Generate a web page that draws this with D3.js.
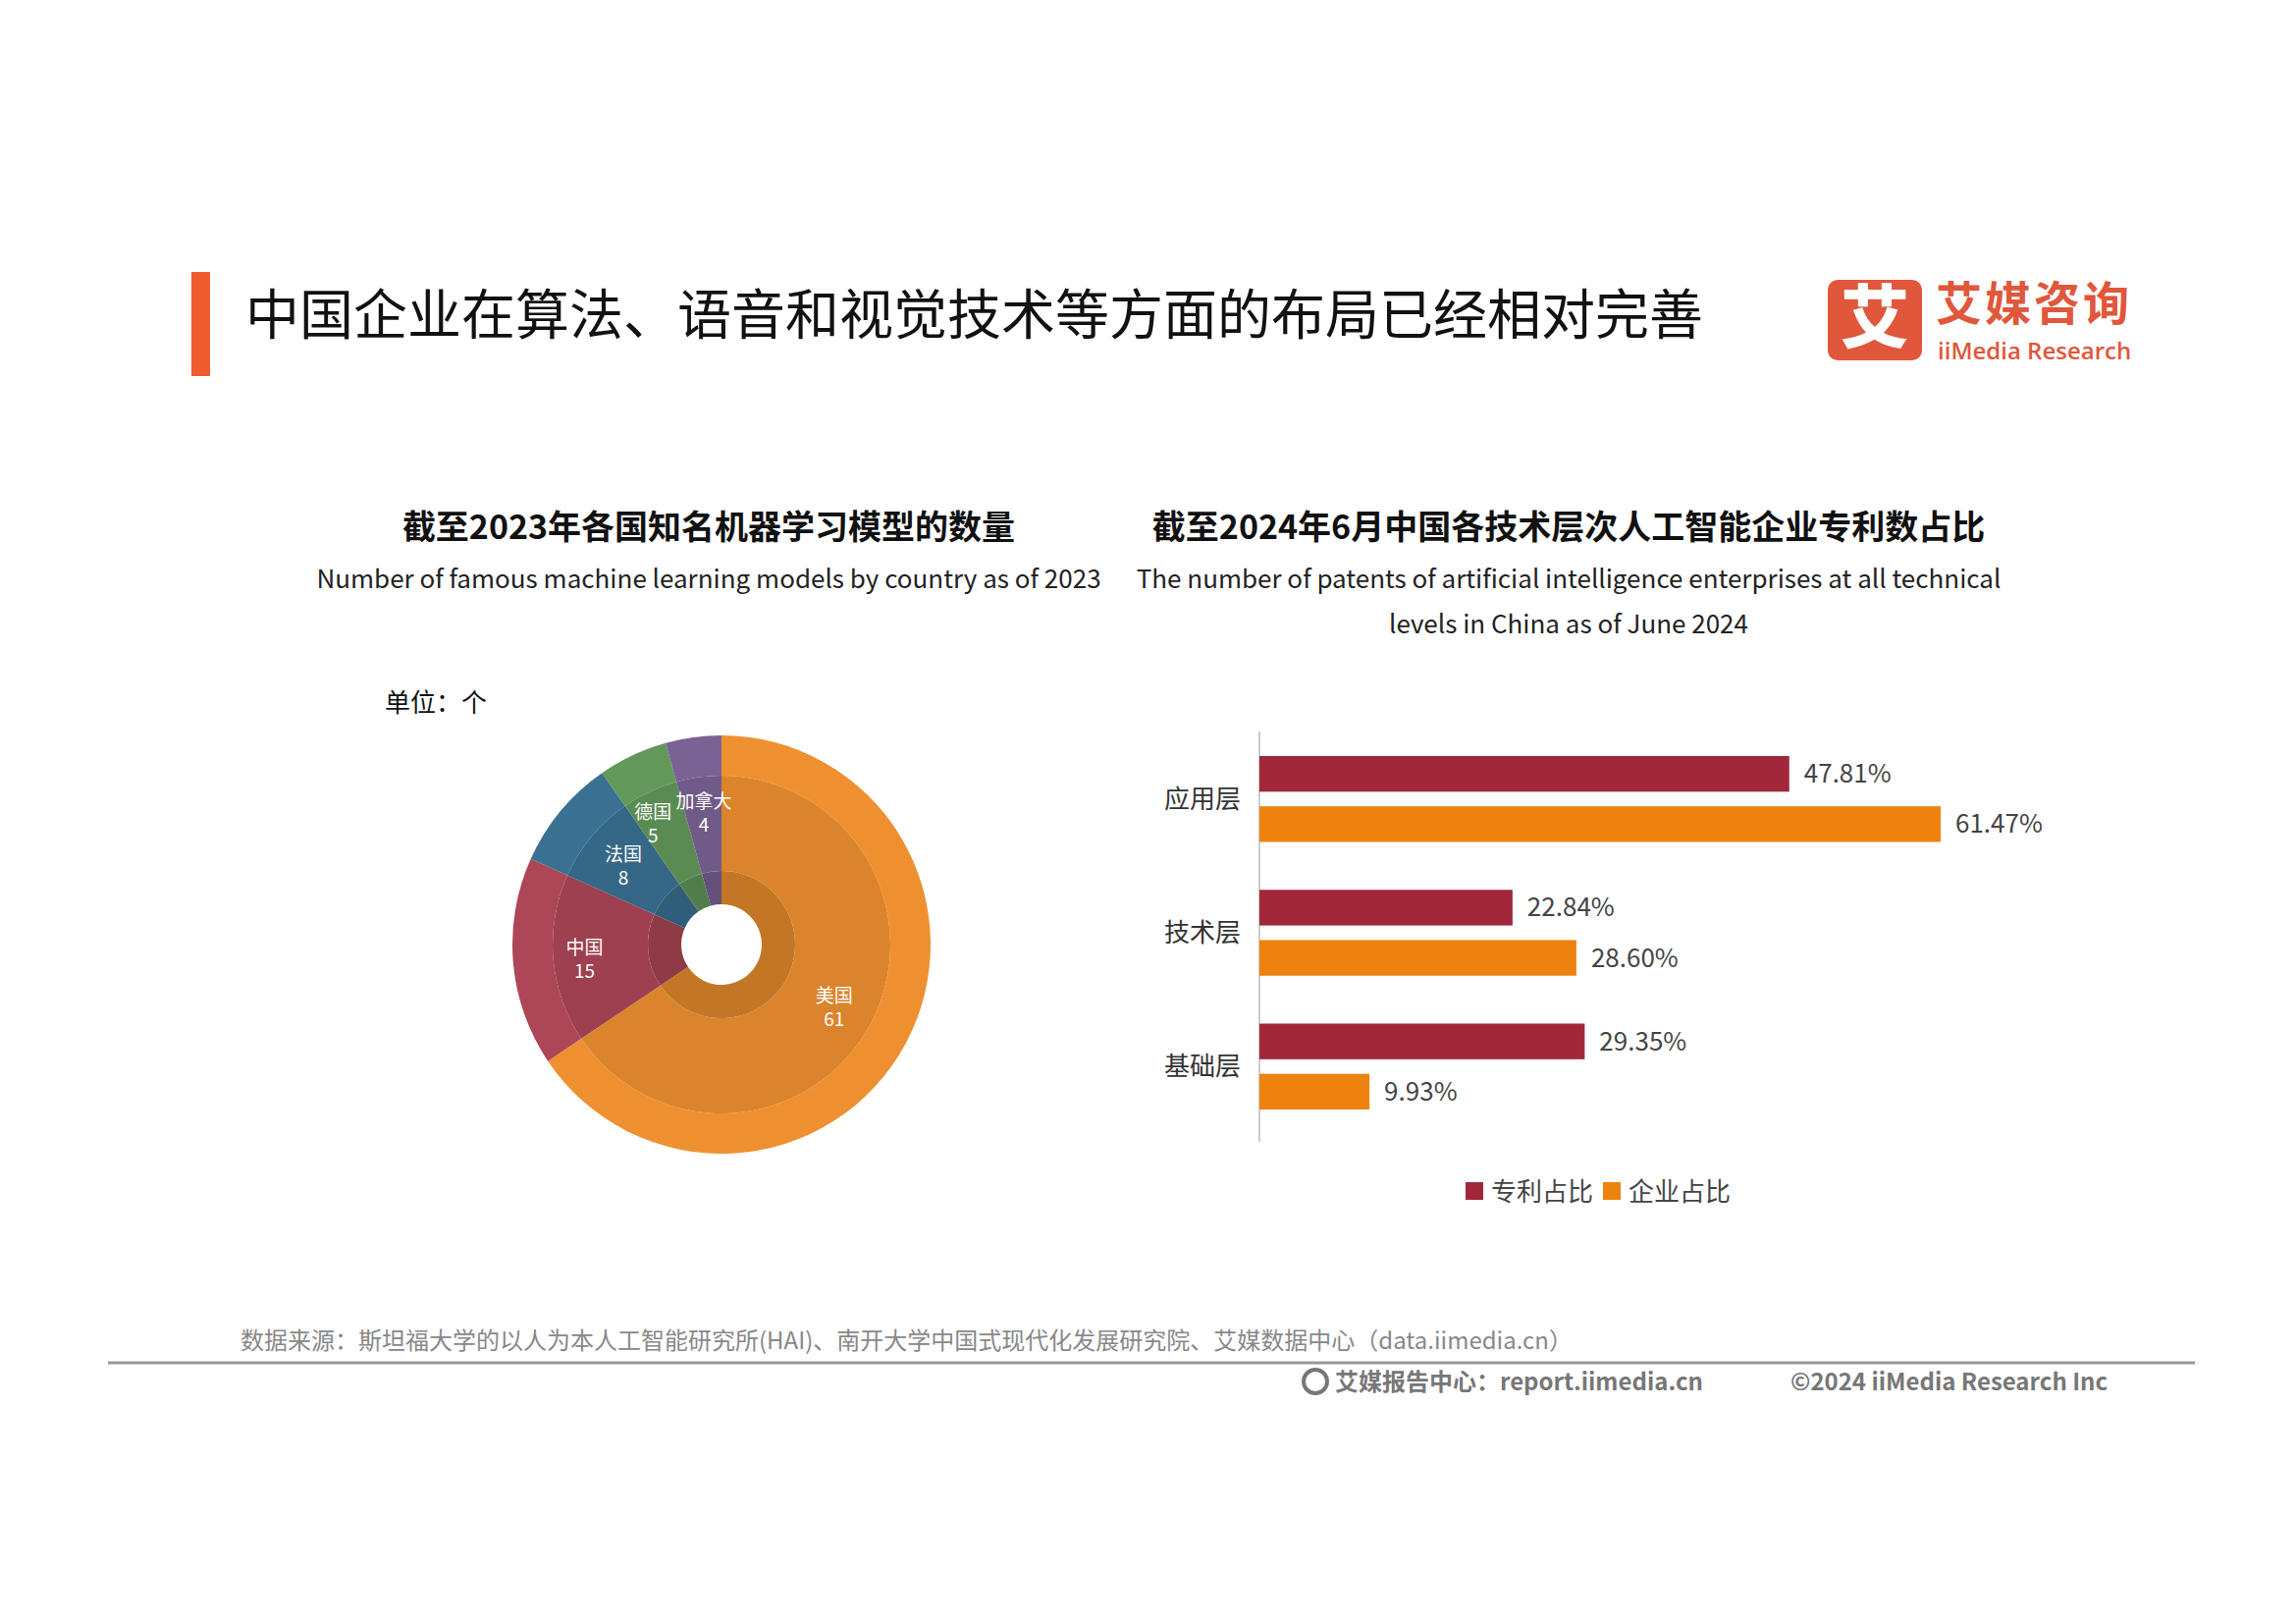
<!DOCTYPE html>
<html><head><meta charset="utf-8">
<script src="https://cdn.jsdelivr.net/npm/d3@7"></script>
<style>body{margin:0;background:#fff}svg{display:block;font-family:"Noto Sans CJK SC","Noto Sans",sans-serif}</style>
</head><body><svg id="c" width="2339" height="1654"></svg>
<script>
var countries = ["美国", "中国", "法国", "德国", "加拿大"];
var models = [61, 15, 8, 5, 4];
var pieColors = ["#ef9030", "#ad4656", "#3a7193", "#62985a", "#7a6295"];

var layers = ["应用层", "技术层", "基础层"];
var patentShare = [47.81, 22.84, 29.35];
var companyShare = [61.47, 28.60, 9.93];
var seriesNames = ["专利占比", "企业占比"];
var barColors = ["#a0283a", "#ee820f"];

var svg = d3.select("#c");

// header
svg.append("rect").attr("x", 195).attr("y", 277).attr("width", 19).attr("height", 106).attr("fill", "#ee5b2f");
svg.append("text").attr("x", 250).attr("y", 340).attr("font-size", 55).attr("fill", "#111")
  .text("中国企业在算法、语音和视觉技术等方面的布局已经相对完善");
svg.append("rect").attr("x", 1862).attr("y", 285).attr("width", 96).attr("height", 82).attr("rx", 10).attr("fill", "#e0573b");
svg.append("text").attr("x", 1910).attr("y", 349).attr("text-anchor", "middle").attr("font-size", 70)
  .attr("font-weight", 900).attr("fill", "#fff").text("艾");
svg.append("text").attr("x", 1972).attr("y", 326).attr("font-size", 47).attr("font-weight", 700)
  .attr("fill", "#e0573b").attr("letter-spacing", 3).text("艾媒咨询");
svg.append("text").attr("x", 1974).attr("y", 366).attr("font-size", 24).attr("font-weight", 600)
  .attr("font-family", "Open Sans").attr("fill", "#e0573b").text("iiMedia Research");

// subtitles
function sub(x, cn, en) {
  svg.append("text").attr("x", x).attr("y", 549).attr("text-anchor", "middle").attr("font-size", 34)
    .attr("font-weight", 700).attr("fill", "#111").text(cn);
  en.forEach(function(t, i) {
    svg.append("text").attr("x", x).attr("y", 599 + i * 46).attr("text-anchor", "middle")
      .attr("font-size", 26).attr("fill", "#222").text(t);
  });
}
sub(722, "截至2023年各国知名机器学习模型的数量", ["Number of famous machine learning models by country as of 2023"]);
sub(1598, "截至2024年6月中国各技术层次人工智能企业专利数占比",
  ["The number of patents of artificial intelligence enterprises at all technical", "levels in China as of June 2024"]);

// pie
svg.append("text").attr("x", 392).attr("y", 725).attr("font-size", 26).attr("fill", "#111").text("单位：个");
var pie = d3.pie().sort(null)(models);
var g = svg.append("g").attr("transform", "translate(735,962)");
var rings = [[172, 213, 0], [75, 172, 0.25], [41, 75, 0.55]];
rings.forEach(function(r) {
  var arc = d3.arc().innerRadius(r[0]).outerRadius(r[1]);
  g.selectAll(null).data(pie).enter().append("path").attr("d", arc)
    .attr("fill", function(d, i) { return d3.color(pieColors[i]).darker(r[2]); });
});
var labPos = [130, 140, 130, 145, 148];
pie.forEach(function(d, i) {
  var a = (d.startAngle + d.endAngle) / 2, rr = labPos[i];
  var x = Math.sin(a) * rr, y = -Math.cos(a) * rr;
  if (i === 3) { x -= 8; y += 5; } if (i === 4) { x += 2; y += 10; }
  var t = g.append("text").attr("text-anchor", "middle").attr("fill", "#fff").attr("font-size", 19);
  t.append("tspan").attr("x", x).attr("y", y - 2).text(countries[i]);
  t.append("tspan").attr("x", x).attr("y", y + 22).text(models[i]);
});

// bars
var x = d3.scaleLinear().domain([0, 61.47]).range([1283, 1977]);
var y0 = d3.scaleBand().domain(layers).range([770, 1130]).paddingInner(0.358).paddingOuter(0);
var y1 = d3.scaleBand().domain([0, 1]).range([0, y0.bandwidth()]).paddingInner(0.29).paddingOuter(0);
svg.append("line").attr("x1", 1283).attr("x2", 1283).attr("y1", 745).attr("y2", 1163).attr("stroke", "#ccc").attr("stroke-width", 2);
layers.forEach(function(l, i) {
  var vals = [patentShare[i], companyShare[i]];
  svg.append("text").attr("x", 1264).attr("y", y0(l) + y0.bandwidth() / 2 + 9).attr("text-anchor", "end")
    .attr("font-size", 26).attr("fill", "#333").text(l);
  vals.forEach(function(v, j) {
    var yy = y0(l) + y1(j);
    svg.append("rect").attr("x", x(0)).attr("y", yy).attr("width", x(v) - x(0)).attr("height", y1.bandwidth()).attr("fill", barColors[j]);
    svg.append("text").attr("x", x(v) + 15).attr("y", yy + y1.bandwidth() / 2 + 9).attr("font-size", 26)
      .attr("fill", "#444").text(v.toFixed(2) + "%");
  });
});
var leg = svg.append("g").attr("transform", "translate(1493,1213)");
seriesNames.forEach(function(n, i) {
  leg.append("rect").attr("x", i * 140).attr("y", -9).attr("width", 18).attr("height", 18).attr("fill", barColors[i]);
  leg.append("text").attr("x", i * 140 + 26).attr("y", 10).attr("font-size", 26).attr("fill", "#444").text(n);
});

// footer
svg.append("text").attr("x", 245).attr("y", 1374).attr("font-size", 24).attr("fill", "#888")
  .text("数据来源：斯坦福大学的以人为本人工智能研究所(HAI)、南开大学中国式现代化发展研究院、艾媒数据中心（data.iimedia.cn）");
svg.append("line").attr("x1", 110).attr("x2", 2236).attr("y1", 1388).attr("y2", 1388).attr("stroke", "#999").attr("stroke-width", 3);
svg.append("circle").attr("cx", 1340).attr("cy", 1407).attr("r", 12).attr("fill", "none").attr("stroke", "#777").attr("stroke-width", 4);
svg.append("text").attr("x", 1360).attr("y", 1416).attr("font-size", 24).attr("font-weight", 700).attr("fill", "#777")
  .text("艾媒报告中心：report.iimedia.cn");
svg.append("text").attr("x", 1824).attr("y", 1416).attr("font-size", 24).attr("font-weight", 700).attr("fill", "#777")
  .text("©2024  iiMedia Research  Inc");
</script></body></html>
